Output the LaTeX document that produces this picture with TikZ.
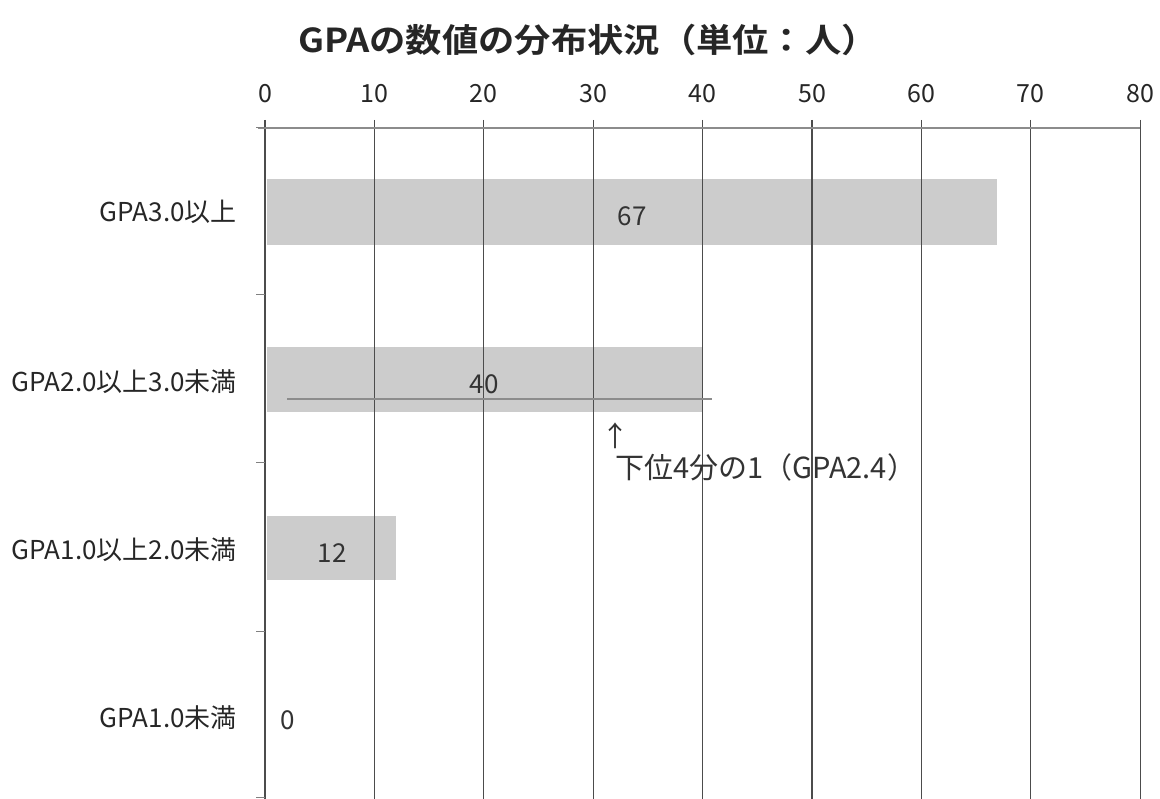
\documentclass[tikz,border=0pt]{standalone}
\usepackage{fontspec}
\setmainfont{Noto Sans CJK JP}
\newfontfamily\titlefont[FakeStretch=1.1]{Noto Sans CJK JP Bold}
\begin{document}
\begin{tikzpicture}[x=1pt,y=-1pt,
  grid/.style={draw=black!70,line width=1.3pt},
  axisline/.style={draw=black!45,line width=1.2pt},
  bar/.style={fill=black!20,draw=none},
  cat/.style={anchor=east,font=\fontsize{26}{28}\selectfont,text=black!85,inner sep=0pt},
  tick/.style={font=\fontsize{25}{28}\selectfont,text=black!85,inner sep=0pt},
  val/.style={font=\fontsize{26}{28}\selectfont,text=black!80,inner sep=0pt}]
\useasboundingbox (0,0) rectangle (1160,799);
\node[font=\titlefont\fontsize{33}{38}\selectfont,text=black!85] (title) at (588,40) {GPAの数値の分布状況（単位：人）};
% bars
\fill[bar] (267,179) rectangle (997,245);
\fill[bar] (267,347) rectangle (703,412);
\fill[bar] (267,516) rectangle (396,580);
% grid lines
\foreach \i in {0,...,8}{
  \draw[grid] ({265+109.4*\i},120) -- ({265+109.4*\i},799);
  \node[tick] (t\i) at ({265+109.4*\i},94) {\pgfmathparse{int(10*\i)}\pgfmathresult};
}
\draw[axisline] (258,128) -- (1140,128);
\foreach \y in {128,295,463,631,797}{
  \draw[draw=black!50,line width=1pt] (256,\y) -- (265,\y);
}
% quartile line
\draw[draw=black!45,line width=2.5pt] (287,399) -- (712,399);
% labels
\node[cat] (c1) at (237,212) {GPA3.0以上};
\node[cat] (c2) at (237,382) {GPA2.0以上3.0未満};
\node[cat] (c3) at (237,550) {GPA1.0以上2.0未満};
\node[cat] (c4) at (237,718) {GPA1.0未満};
\node[val] (v1) at (632,216) {67};
\node[val] (v2) at (484,384) {40};
\node[val] (v3) at (332,553) {12};
\node[val] (v4) at (288,720) {0};
\node[val,font=\fontsize{28}{30}\selectfont] (arr) at (615,436) {↑};
\node[val,anchor=west,font=\fontsize{29}{31}\selectfont] (note) at (615,467) {下位4分の1（GPA2.4）};
\end{tikzpicture}
\end{document}
